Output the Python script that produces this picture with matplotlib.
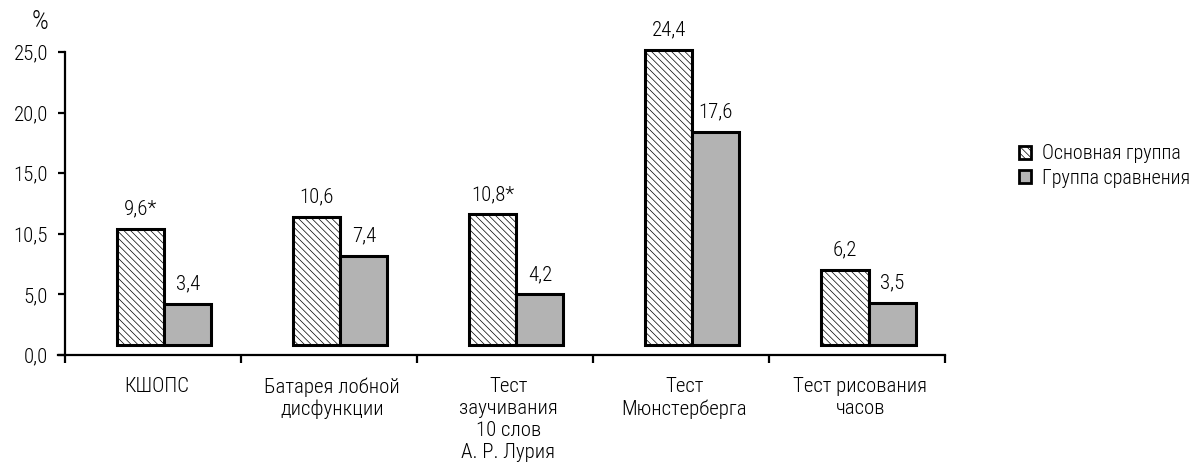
import matplotlib
matplotlib.use("Agg")
import matplotlib.pyplot as plt
from matplotlib import font_manager as fm
from matplotlib.patches import Patch
import numpy as np

categories = ["КШОПС", "Батарея лобной\nдисфункции", "Тест\nзаучивания\n10 слов\nА. Р. Лурия",
              "Тест\nМюнстерберга", "Тест рисования\nчасов"]
main_vals = [9.6, 10.6, 10.8, 24.4, 6.2]
comp_vals = [3.4, 7.4, 4.2, 17.6, 3.5]
main_labels = ["9,6*", "10,6", "10,8*", "24,4", "6,2"]
comp_labels = ["3,4", "7,4", "4,2", "17,6", "3,5"]
series_names = ["Основная группа", "Группа сравнения"]
ytick_vals = [0, 5, 10, 15, 20, 25]
ytick_labels = ["0,0", "5,0", "10,5", "15,0", "20,0", "25,0"]

# pick a narrow/condensed font if one is installed
names = {f.name for f in fm.fontManager.ttflist}
family = None
stretch = 'normal'
for cand in ['Liberation Sans Narrow', 'Roboto Condensed', 'DejaVu Sans Condensed', 'Open Sans Condensed']:
    if cand in names:
        family = cand
        break
if family is None:
    for f in fm.fontManager.ttflist:
        if f.name == 'DejaVu Sans' and f.stretch == 'condensed':
            family = 'DejaVu Sans'
            stretch = 'condensed'
            break
if family is None:
    family = 'Liberation Sans'
plt.rcParams['font.family'] = [family, 'DejaVu Sans']
plt.rcParams['font.stretch'] = stretch
plt.rcParams['font.weight'] = 300
plt.rcParams['hatch.linewidth'] = 0.5
plt.rcParams['hatch.color'] = '#3a3a3a'

W, H = 1193, 463
fig = plt.figure(figsize=(W / 100, H / 100), dpi=100)
x0, x1 = 64.7, 945.0
y0, y1 = 355.0, 52.0
ax = fig.add_axes([x0 / W, 1 - y0 / H, (x1 - x0) / W, (y0 - y1) / H])

x = np.arange(len(categories))
bw = 0.267
base = 0.8
gray = '#b3b3b3'
b1 = ax.bar(x - 0.068, main_vals, bw, bottom=base, facecolor='white', edgecolor='black',
            linewidth=2.2, hatch='\\\\\\\\\\', clip_on=False, zorder=3)
b2 = ax.bar(x - 0.068 + bw, comp_vals, bw, bottom=base, facecolor=gray, edgecolor='black',
            linewidth=2.2, clip_on=False, zorder=3)

fs = 15
for rects, labs in ((b1, main_labels), (b2, comp_labels)):
    for r, lab in zip(rects, labs):
        ax.annotate(lab, (r.get_x() + r.get_width() / 2, r.get_y() + r.get_height()),
                    xytext=(0, 7.5), textcoords='offset points', ha='center', va='bottom',
                    fontsize=fs, annotation_clip=False)

ax.set_xlim(-0.5, len(categories) - 0.5)
ax.set_ylim(0, 25)
for s in ('top', 'right'):
    ax.spines[s].set_visible(False)
for s in ('left', 'bottom'):
    ax.spines[s].set_linewidth(1.6)
ax.spines['bottom'].set_bounds(-0.54, len(categories) - 0.5)

ax.set_yticks(ytick_vals)
ax.set_yticklabels(ytick_labels, fontsize=fs)
ax.tick_params(axis='y', length=5, width=1.6, pad=7)

ax.set_xticks(x + 0.02)
ax.set_xticklabels(categories, fontsize=fs, linespacing=1.2)
ax.tick_params(axis='x', which='major', length=0, pad=16)
ax.set_xticks(np.arange(len(categories) + 1) - 0.5, minor=True)
ax.tick_params(axis='x', which='minor', length=6, width=1.6, direction='out')

ax.text(-0.028, 1.099, "%", transform=ax.transAxes, fontsize=19, ha='center', va='center')

handles = [Patch(facecolor='white', edgecolor='black', hatch='\\\\\\\\\\', linewidth=2.0),
           Patch(facecolor=gray, edgecolor='black', linewidth=2.0)]
fig.legend(handles, series_names, loc='center left', bbox_to_anchor=(1019 / W, 1 - 166 / H),
           frameon=False, fontsize=14.5, handlelength=0.6, handleheight=0.6,
           handletextpad=0.55, labelspacing=0.25, borderaxespad=0, borderpad=0)

fig.savefig("out.png", dpi=100)
